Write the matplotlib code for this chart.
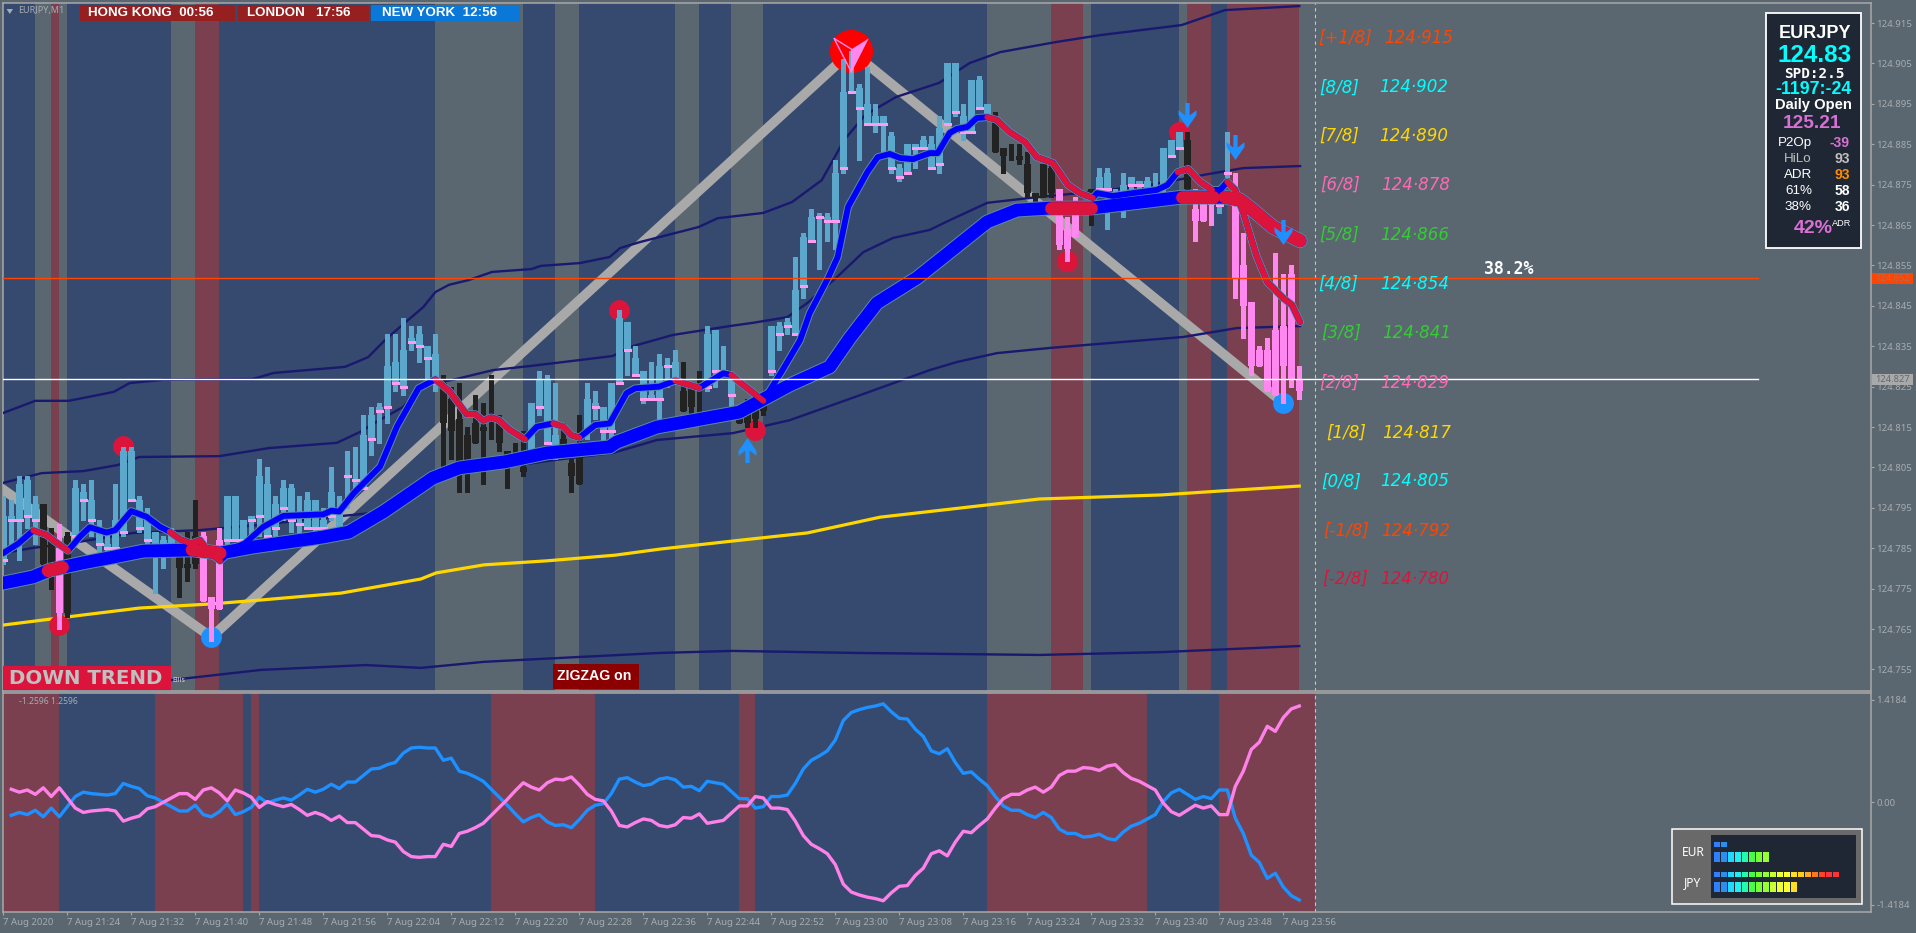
import numpy as np
import matplotlib
matplotlib.use("Agg")
import matplotlib.pyplot as plt
from matplotlib.patches import Rectangle
from matplotlib.path import Path
import logging
logging.getLogger("matplotlib.font_manager").setLevel(logging.ERROR)

W, H = 1916, 933
BASE = 124.7
P = lambda a: BASE + np.asarray(a, dtype=float) / 1000

# ---- candles: points above 124.700 ----
highs = [98,97,103,103,98,96,90,91,89,102,101,102,92,89,101,110,110,98,95,89,88,90,86,89,97,89,73,90,98,98,92,93,107,105,98,102,101,98,99,97,95,105,98,
109,110,118,120,121,138,138,142,140,140,135,138,128,125,126,115,123,121,128,118,109,111,114,121,129,128,126,116,107,118,126,124,120,126,144,141,135,129,131,133,132,134,131,126,129,140,139,135,127,120,122,122,123,
140,141,142,157,163,169,168,168,181,206,208,200,204,195,192,188,180,185,185,187,187,192,205,205,195,201,202,195,193,184,185,185,183,173,180,180,
174,167,172,171,174,179,179,174,178,177,176,177,178,184,186,188,188,174,173,174,174,188,178,163,146,135,137,158,153,155,130]
tops = [93,93,101,102,96,96,88,85,88,100,99,97,89,86,92,109,109,97,93,89,87,89,83,81,88,88,73,87,98,98,92,93,103,101,96,100,100,91,97,97,92,99,95,
103,102,113,118,120,130,131,134,137,138,135,133,126,122,117,113,116,115,115,117,109,108,105,121,127,127,113,112,106,111,122,121,120,126,142,141,132,129,123,130,130,131,124,125,125,138,139,129,127,120,120,120,122,
140,140,141,149,162,167,167,167,178,198,198,199,195,192,192,187,179,185,185,186,185,189,205,205,192,201,201,195,191,184,182,182,180,173,180,179,
174,164,171,170,174,177,178,172,175,177,176,176,172,184,186,188,186,169,171,172,173,178,170,155,146,134,134,139,140,153,127]
bottoms = [82,92,92,93,92,81,81,69,69,88,97,92,86,85,85,89,97,90,87,85,86,86,80,80,81,72,70,70,87,87,87,92,93,88,90,95,92,91,90,90,90,93,90,
103,102,100,112,119,120,126,125,136,135,132,126,116,114,106,106,111,114,115,111,108,108,104,108,120,111,110,110,103,101,114,120,114,114,126,134,128,122,122,122,130,126,119,120,124,125,129,129,123,116,116,117,119,
129,138,140,138,150,161,167,166,166,179,198,194,190,190,190,179,177,178,184,184,179,180,190,193,188,188,194,192,183,182,182,181,173,172,172,173,
160,159,162,169,172,174,174,171,171,175,175,172,172,175,182,184,174,166,166,170,170,178,152,145,130,130,124,123,130,127,124]
lows = [81,86,82,90,86,78,75,65,68,87,92,88,83,83,85,88,97,89,85,74,80,86,73,77,80,72,62,70,86,87,86,88,88,88,88,92,89,89,90,88,89,92,89,
95,100,100,108,111,116,124,123,134,131,126,124,105,107,99,99,111,101,112,109,100,106,103,108,118,111,107,108,99,101,112,117,111,111,126,128,128,121,122,116,125,126,119,118,118,124,125,128,120,116,115,115,118,
128,134,138,138,147,161,154,161,159,178,198,181,190,188,183,178,176,178,179,184,179,178,190,192,186,188,194,191,183,178,181,180,172,170,172,172,
159,156,162,168,165,173,164,170,167,174,174,172,172,172,182,184,174,161,166,165,168,177,147,137,128,130,124,123,121,125,122]
kinds = ("b"*5 + "kk" + "p" + "k" + "b"*13 + "kkk" + "ppp" + "b"*27 + "k"*11 + "b"*4 + "kkk" + "b"*12
         + "kkk" + "b"*4 + "k"*4 + "b"*28 + "k"*8 + "p"*4 + "k" + "b"*11 + "k" + "ppp" + "bb" + "p"*9)

# ---- overlays: bar position and points above 124.700 ----
fast_bar = [0,1.9,3.75,5.4,6.5,8.1,9.6,10.8,12.9,14,16,17.9,19.6,20.8,22.1,23.5,24.6,25.8,27.1,28.8,30.2,32.5,35,40,41,42,43.8,47.1,49.2,51.9,54,55.8,57.9,59,60,61,62,63.3,65.2,66.7,68.75,70,71,72,74,75.8,77.9,79,82,84,87,90,91,92,95,97.4,99.6,100.8,103.1,104.3,105.6,108,109.3,110.8,112.1,113.7,115.8,116.8,118.3,119.2,120.5,121.7,123,124.2,125.8,127.7,129.2,131.2,133.1,134.6,136.2,136.7,138.7,141.2,144.2,145.5,146.8,148.1,149.6,151.1,152.1,153,154,155,156.7,158,160,161.1,162.1]
fast_val = [83.8,86.2,89.4,88.3,86.6,84.4,87.9,90.2,88.9,89.5,94.2,92.8,90.3,89.1,87.2,86.2,87,83.8,81.9,85,86.2,90.3,93,93.4,94.3,94.1,98.6,105.2,115.1,124.6,126.8,123.8,118.2,118.2,116.6,117.4,116.7,114.3,112,115.1,115.9,115.1,113,112.4,115.5,115.9,123.4,124.6,125,126.5,124.7,128.3,127.9,126.2,121.5,129.1,136.5,143.2,151.9,157.1,169.5,178.1,181.8,182.6,181.6,181.3,182.8,182.8,187.8,188.8,189.3,191.5,191.7,191,188,185.6,181.8,180.4,174.9,172.9,171.7,172.9,172.2,172.9,173.7,174.9,178.1,178.9,175.7,173.7,173.7,175.7,173.7,168,157.1,150.9,146.9,145.2,141]
fast_red = [(3.75,8.1),(20.8,27.1),(54,65.2),(68.75,72),(84,87),(91,95),(123,136.2),(146.8,151.1),(153,162.1)]

slow_bar = [0,3.7,5.8,10,13.7,17.5,23.7,27.1,31.2,40,43.2,47.5,53.7,57,62.7,68,75.8,76.7,81.7,92,98.3,103.3,105.8,109.2,114.2,117.5,123,126.7,130.9,136,147.3,152.7,154.6,156.2,158.7,162.1]
slow_val = [76.4,77.9,79.6,81.4,82.8,84.3,84.6,83.8,85.3,87.8,89,94,102.4,104.9,106.4,108.6,110.1,111.3,115,118.7,125.4,129.9,137,145.7,151.9,157.1,165.8,168.7,169.2,169.2,171.9,171.9,171.2,168.7,164.5,161.1]
slow_red = [(5.6,7.4),(23.6,27.1),(131,136),(147.3,151.2),(152.7,162.1)]

yellow_bar = [0,4.8,10,17,25.8,32.2,42.2,52.2,54.1,60.1,68,76.5,82.1,91.2,100.5,109.6,129.5,144.7,152.3,162]
yellow_val = [66,67.2,68.5,70.2,71.2,72.2,73.9,77.4,78.9,80.9,81.9,83.3,84.8,86.8,88.8,92.7,97.2,98.2,99.2,100.4]

zig_bar = [0,26,106,160]
zig_val = [99.5,63,208,121]

env_a_bar = [0,4,8.2,13.8,15.8,20,31.2,33.8,42.7,45.6,47.7,49.6,52.5,54,55.7,58.2,61.1,66,67.2,72.1,75.8,77.1,79.6,86.9,89.3,95,98.6,102.3,105.1,107.7,111.6,117,120.8,124.6,131.6,137.1,147.3,152.7,162]
env_a_val = [118.5,121.5,121.5,123.7,125.9,126.7,126.9,128.4,129.9,132.3,136.5,139.8,144.7,148.4,150.2,151.4,153.4,154.1,154.9,155.6,157.1,159.3,160.8,164.5,166.7,168,170.7,176.1,186,192.2,196.7,200.2,205.1,207.8,210.3,212,214.5,218.2,219.2]
env_b_bar = [0,4.8,10,14.3,17,27,33.2,41.7,44.6,47,50,52,54,56.2,61.2,65.8,72.1,76.2,78.3,83.7,90.8,93.7,98,100.5,104.2,107.5,111.2,115.8,118.3,123,128.3,136,143.3,150,155,162.1]
env_b_val = [101.2,103.6,104.1,105.6,107.6,107.8,109.8,111.1,113.8,116.7,120,124.7,125.9,126.7,129.1,130.1,131.6,132.6,134.8,137.8,140,140.8,142.2,145.7,152.1,158.3,161.8,163.8,166.2,170.5,171.7,173.2,174.9,177.4,179.1,179.6]
env_c_bar = [0,3.7,8,16.2,24.6,32.1,40.8,45.9,47.5,54.3,62.7,68.7,76.2,81.7,91.2,98.3,107.1,115.8,119.2,124.2,130.9,147.5,154.2,162.1]
env_c_val = [83.8,85.1,86.1,88.8,89.5,90.8,92.7,93.7,95,102.6,105.1,106.8,108.6,111.8,113.5,116.7,122.9,129.1,131.1,133.3,134.6,137.3,139.5,140]
env_d_bar = [21,32.2,45.3,52.2,60.1,69,82.1,91.2,106.5,129.5,144.7,162]
env_d_val = [52.4,54.9,56.1,55.4,56.9,57.8,59.1,59.6,59.1,58.6,59.3,60.8]

dot_red_bar = [15,7,77,133,147,94]
dot_red_val = [110.3,66,144,156.1,188.1,114.3]
dot_blue_bar = [26,160]
dot_blue_val = [63,121]
top_bar, top_val = [105.9], [208]
arrow_dn_bar = [148,154,160]
arrow_dn_val = [192.2,184.3,163.3]
arrow_up_bar = [93]
arrow_up_val = [109.3]

# ---- background sessions, in bars ----
grey_bands = [(4,6),(7,8),(21,24),(54,65),(69,72),(84,87),(91,95),(123,131),(135,136),(147,148)]
red_bands = [(6,7),(24,27),(131,135),(148,151),(153,162)]
sub_red_bands = [(-0.1,7),(19,30),(31,32),(61,74),(92,94),(123,143),(152,164)]

# ---- oscillator ----
osc_blue = [-0.18,-0.14,-0.17,-0.11,-0.20,-0.08,-0.20,-0.06,0.08,0.14,0.12,0.11,0.10,0.12,0.26,0.22,0.19,0.09,0.06,0.00,-0.06,-0.12,-0.12,-0.04,-0.17,-0.20,-0.13,-0.02,-0.17,-0.13,-0.07,0.07,-0.01,0.03,0.06,0.03,0.10,0.18,0.14,0.18,0.25,0.19,0.28,0.28,0.37,0.46,0.47,0.52,0.55,0.68,0.75,0.76,0.75,0.75,0.58,0.61,0.43,0.40,0.35,0.29,0.18,0.07,-0.04,-0.16,-0.27,-0.21,-0.17,-0.27,-0.32,-0.31,-0.35,-0.24,-0.11,-0.04,-0.02,0.12,0.32,0.34,0.28,0.23,0.25,0.32,0.34,0.31,0.21,0.22,0.16,
0.29,0.27,0.25,0.15,0.05,0.05,-0.08,-0.06,0.08,0.08,0.10,0.26,0.46,0.58,0.64,0.71,0.86,1.13,1.24,1.28,1.31,1.33,1.36,1.25,1.16,1.15,1.01,0.91,0.71,0.67,0.74,0.55,0.40,0.42,0.32,0.23,0.08,-0.05,-0.11,-0.11,-0.17,-0.21,-0.14,-0.21,-0.37,-0.43,-0.43,-0.48,-0.47,-0.44,-0.50,-0.52,-0.41,-0.33,-0.29,-0.23,-0.17,0.01,0.13,0.18,0.11,0.04,0.08,0.05,0.17,0.17,-0.22,-0.43,-0.73,-0.83,-1.05,-0.98,-1.17,-1.29,-1.35]
osc_pink = [0.18,0.14,0.17,0.11,0.20,0.08,0.20,0.06,-0.08,-0.14,-0.12,-0.11,-0.10,-0.12,-0.26,-0.22,-0.19,-0.09,-0.06,0.00,0.06,0.12,0.12,0.04,0.17,0.20,0.13,0.02,0.17,0.13,0.07,-0.07,0.01,-0.03,-0.06,-0.03,-0.10,-0.18,-0.14,-0.18,-0.25,-0.19,-0.28,-0.28,-0.37,-0.46,-0.47,-0.52,-0.55,-0.68,-0.75,-0.76,-0.75,-0.75,-0.58,-0.61,-0.43,-0.40,-0.35,-0.29,-0.18,-0.07,0.04,0.16,0.27,0.21,0.17,0.27,0.32,0.31,0.35,0.24,0.11,0.04,0.02,-0.12,-0.32,-0.34,-0.28,-0.23,-0.25,-0.32,-0.34,-0.31,-0.21,-0.22,-0.16,
-0.29,-0.27,-0.25,-0.15,-0.05,-0.05,0.08,0.06,-0.08,-0.08,-0.10,-0.26,-0.46,-0.58,-0.64,-0.71,-0.86,-1.13,-1.24,-1.28,-1.31,-1.33,-1.36,-1.25,-1.16,-1.15,-1.01,-0.91,-0.71,-0.67,-0.74,-0.55,-0.40,-0.42,-0.32,-0.23,-0.08,0.05,0.11,0.11,0.17,0.21,0.14,0.21,0.37,0.43,0.43,0.48,0.47,0.44,0.50,0.52,0.41,0.33,0.29,0.23,0.17,-0.01,-0.13,-0.18,-0.11,-0.04,-0.08,-0.05,-0.17,-0.17,0.22,0.43,0.73,0.83,1.05,0.98,1.17,1.29,1.33]

price_ticks = [124.755 + 0.01 * k for k in range(17)]
time_labels = ["7 Aug 2020","7 Aug 21:24","7 Aug 21:32","7 Aug 21:40","7 Aug 21:48","7 Aug 21:56","7 Aug 22:04","7 Aug 22:12","7 Aug 22:20","7 Aug 22:28","7 Aug 22:36","7 Aug 22:44","7 Aug 22:52","7 Aug 23:00","7 Aug 23:08","7 Aug 23:16","7 Aug 23:24","7 Aug 23:32","7 Aug 23:40","7 Aug 23:48","7 Aug 23:56"]
line_orange = 124.852
line_white = 124.8268

murrey_tag = ["[+1/8]","[8/8]","[7/8]","[6/8]","[5/8]","[4/8]","[3/8]","[2/8]","[1/8]","[0/8]","[-1/8]","[-2/8]"]
murrey_val = ["124·915","124·902","124·890","124·878","124·866","124·854","124·841","124·829","124·817","124·805","124·792","124·780"]
murrey_col = ["#FF4500","#00FFFF","#FFD700","#FF69B4","#32CD32","#00FFFF","#32CD32","#FF69B4","#FFD700","#00FFFF","#FF4500","#DC143C"]
murrey_y = [37.7,87.3,136,185,235,284,333,382.7,432.6,481.5,531,579]
murrey_x = [1318,1319,1319,1320,1319,1318,1321,1319,1326,1321,1323,1322]
murrey_xv = [1384,1379,1379,1381,1380,1380,1382,1380,1382,1380,1381,1380]

strength_names = ["EUR","JPY"]
strength_counts = [2,8,18,12]
cell_colors = ["#2F7FFF","#2A90F0","#22D8FF","#22F0F0","#22FFAA","#44FF44","#77FF33","#99FF33","#CCFF33","#EEFF33","#FFFF33","#FFDD22","#FFCC22","#FFAA22","#FF7722","#FF4422","#FF3333","#FF3333"]

BG = "#5B6770"; NAVYBG = "#36496E"; MAROON = "#7B4050"; EDGE = "#A8A8A8"; TXT = "#A6ACB0"
CANDLE = {"b": "#5BA8CC", "k": "#222222", "p": "#FF88F0"}
LAB = "Noto Sans"
BOLD = "Liberation Sans"

fig = plt.figure(figsize=(W/100, H/100), dpi=100, facecolor=BG)
def axpx(x0, y0, x1, y1):
    return fig.add_axes([x0/W, 1-y1/H, (x1-x0)/W, (y1-y0)/H])

XL = ((2.5-3.3)/8, (1870.5-3.3)/8)
ax = axpx(2.5, 3, 1870.5, 691)
sub = axpx(2.5, 692.7, 1870.5, 912)
for a in (ax, sub):
    a.set_facecolor(BG)
    a.set_xlim(*XL)
    for s in a.spines.values():
        s.set_color(EDGE); s.set_linewidth(1.1)
ax.set_ylim(BASE + (220.7-0.2475*691)/1000, BASE + (220.7-0.2475*3)/1000)
sub.set_ylim(-(912-802.3)/72.4, (802.3-692.7)/72.4)

# --- session backgrounds
ax.axvspan(XL[0], 162, color=NAVYBG, lw=0, zorder=1)
for a, b in grey_bands: ax.axvspan(a, b, color=BG, lw=0, zorder=1.1)
for a, b in red_bands:  ax.axvspan(a, b, color=MAROON, lw=0, zorder=1.1)
sub.axvspan(XL[0], 164, color=NAVYBG, lw=0, zorder=1)
for a, b in sub_red_bands: sub.axvspan(a, b, color=MAROON, lw=0, zorder=1.1)
for a in (ax, sub):
    a.axvline(164, color="#C8C8C8", lw=0.8, ls=(0, (3, 3)), zorder=1.2)

# --- zigzag and envelopes
ax.plot(zig_bar, P(zig_val), color="#A9A9A9", lw=7.0, solid_joinstyle="miter", zorder=2)
for b, v in ((env_a_bar, env_a_val), (env_b_bar, env_b_val), (env_c_bar, env_c_val), (env_d_bar, env_d_val)):
    ax.plot(b, P(v), color="#191970", lw=1.7, zorder=3)
ax.plot(yellow_bar, P(yellow_val), color="#FFD700", lw=2.3, zorder=3)

# --- extreme dots
ax.plot(dot_red_bar, P(dot_red_val), "o", color="#DC143C", ms=15, mew=0, zorder=4)
ax.plot(dot_blue_bar, P(dot_blue_val), "o", color="#1E90FF", ms=15, mew=0, zorder=4)
ax.plot(top_bar, P(top_val), "o", color="#FF0000", ms=31, mew=0, zorder=4)

# --- candles
xs = np.arange(len(highs))
colors = [CANDLE[k] for k in kinds]
ax.vlines(xs, P(lows), P(highs), colors=colors, lw=2.2, zorder=5, antialiased=False)
T, B = P(tops), P(bottoms)
ax.bar(xs, T-B, bottom=B, width=0.92, color=colors, lw=0, zorder=5.1, antialiased=False)
up = np.array([k == "b" for k in kinds])
ax.hlines(B[up], xs[up]-0.46, xs[up]+0.46, colors="#FF9CF2", lw=0.8, zorder=5.2, antialiased=False)

# --- moving averages
def ma(b, v, red, lw):
    y = P(v)
    ax.plot(b, y, color="#5C8AA8", lw=lw+1.4, solid_capstyle="round", zorder=6)
    ax.plot(b, y, color="#0000FF", lw=lw, solid_capstyle="round", zorder=6.1)
    for lo, hi in red:
        g = np.linspace(lo, hi, 60)
        ax.plot(g, np.interp(g, b, y), color="#DC143C", lw=lw, solid_capstyle="round", zorder=6.2)
ma(slow_bar, slow_val, slow_red, 9.2)
ma(fast_bar, fast_val, fast_red, 4.2)

# --- horizontal levels
frac = (1758-2.5)/(1870.5-2.5)
ax.axhline(line_orange, xmax=frac, color="#FF4500", lw=1.0, zorder=6.5)
ax.axhline(line_white, xmax=frac, color="#FFFFFF", lw=1.0, zorder=6.5)

# --- arrows
dn = Path([(-.17,1),(.17,1),(.17,0),(.72,.42),(.72,.05),(0,-1),(-.72,.05),(-.72,.42),(-.17,0),(-.17,1)], closed=True)
upm = Path([(-.17,-1),(.17,-1),(.17,0),(.72,-.42),(.72,-.05),(0,1),(-.72,-.05),(-.72,-.42),(-.17,0),(-.17,-1)], closed=True)
ax.plot(arrow_dn_bar, P(arrow_dn_val), ls="", marker=dn, color="#1E90FF", ms=18, mew=0, zorder=7)
ax.plot(arrow_up_bar, P(arrow_up_val), ls="", marker=upm, color="#1E90FF", ms=18, mew=0, zorder=7)
wing_r = Path([(.83,.63),(0,.11),(0,-1),(.83,.63)], closed=True)
wing_l = Path([(-.84,.63),(0,.11),(0,-1),(-.84,.63)], closed=True)
ax.plot(top_bar, P(top_val), ls="", marker=wing_r, color="#FF88F0", ms=30, mew=0, zorder=7)
ax.plot(top_bar, P(top_val), ls="", marker=wing_l, mfc="none", mec="#FF88F0", ms=30, mew=1, zorder=7)

# --- oscillator lines
sub.plot(np.arange(1, len(osc_blue)+1), osc_blue, color="#1E90FF", lw=2.4, zorder=3)
sub.plot(np.arange(1, len(osc_pink)+1), osc_pink, color="#FF80E8", lw=2.4, zorder=3.1)

# --- axes ticks
ax.yaxis.tick_right()
ax.set_xticks([])
ax.set_yticks(price_ticks)
ax.set_yticklabels([f"{p:.3f}" for p in price_ticks], fontsize=6.9, family=LAB, color=TXT)
ax.tick_params(axis="y", length=2.2, width=0.8, color=EDGE, pad=2)
sub.yaxis.tick_right()
sub.set_yticks([1.4184, 0, -1.4184])
sub.set_yticklabels(["1.4184", "0.00", "-1.4184"], fontsize=6.9, family=LAB, color=TXT)
sub.tick_params(axis="y", length=2.2, width=0.8, color=EDGE, pad=2)
sub.set_xticks(np.arange(len(time_labels)) * 8)
sub.set_xticklabels(time_labels, fontsize=6.9, family=LAB, color=TXT, ha="left")
sub.tick_params(axis="x", length=2.2, width=0.8, color=EDGE, pad=2)

# --- overlay in pixels for panels and labels
ov = fig.add_axes([0, 0, 1, 1], zorder=20)
ov.set_xlim(0, W); ov.set_ylim(H, 0); ov.axis("off"); ov.patch.set_alpha(0)
def box(x0, y0, x1, y1, fc, ec="none", lw=0, **kw):
    ov.add_patch(Rectangle((x0, y0), x1-x0, y1-y0, facecolor=fc, edgecolor=ec, lw=lw, **kw))
def tx(x, y, s, **kw):
    kw.setdefault("va", "center"); kw.setdefault("ha", "left")
    ov.text(x, y, s, **kw)

# session clocks
box(80, 5, 234.7, 20.7, "#962020"); box(238, 5, 368.6, 20.7, "#962020"); box(371, 5, 519.6, 20.7, "#0A78D8")
kw = dict(color="white", fontsize=9.6, weight="bold", family=BOLD)
tx(88, 13, "HONG KONG  00:56", **kw); tx(247.5, 13, "LONDON   17:56", **kw); tx(382, 13, "NEW YORK  12:56", **kw)
tx(18.4, 10.7, "EURJPY,M1", color=TXT, fontsize=6.5, family=LAB)
ov.fill([6.5, 13, 9.8], [9, 9, 14], color=TXT, lw=0)
tx(19, 701.7, "-1.2596 1.2596", color=TXT, fontsize=6.2, family=LAB)

# trend and zigzag badges
box(3.4, 666, 171, 690, "#DC143C")
tx(9, 678.5, "DOWN TREND", color="#C0C0C0", fontsize=14.2, weight="bold", family="DejaVu Sans")
tx(172.5, 680, "Ellis", color="#DDDDDD", fontsize=5, family=LAB)
box(553, 664, 639, 689, "#8B0000")
tx(594, 676.5, "ZIGZAG on", ha="center", color="white", fontsize=10.2, weight="bold", family=BOLD)

# Murrey levels
for t, v, c, y, x, xv in zip(murrey_tag, murrey_val, murrey_col, murrey_y, murrey_x, murrey_xv):
    tx(x, y, t, color=c, fontsize=12, style="oblique", family="DejaVu Sans")
    tx(xv, y, v, color=c, fontsize=12, style="oblique", family="DejaVu Sans")
tx(1484.5, 268.7, "38.2%", color="white", fontsize=11.9, weight="bold", family="DejaVu Sans Mono")

# price tags
box(1872, 273, 1913, 284, "#FF4500")
tx(1892.5, 278.5, "124.852", ha="center", color="#A97060", fontsize=6.6, family=LAB)
box(1872, 374, 1913, 385, "#A9A9A9")
tx(1892.5, 379.5, "124.827", ha="center", color="#5F6A72", fontsize=6.6, family=LAB)

# symbol panel
box(1766.4, 13.3, 1861, 247.7, "#1E2733", ec="white", lw=1.3)
tx(1851, 33.3, "EURJPY", ha="right", color="white", fontsize=13, weight="bold", family=BOLD)
tx(1851.7, 55.3, "124.83", ha="right", color="#00FFFF", fontsize=17.5, weight="bold", family=BOLD)
tx(1845, 74, "SPD:2.5", ha="right", color="white", fontsize=10.4, weight="bold", family="DejaVu Sans Mono")
tx(1851.5, 90, "-1197:-24", ha="right", color="#00FFFF", fontsize=12.8, weight="bold", family=BOLD)
tx(1852, 105, "Daily Open", ha="right", color="white", fontsize=10.6, weight="bold", family=BOLD)
tx(1841.5, 124, "125.21", ha="right", color="#DA70D6", fontsize=13.8, weight="bold", family=BOLD)
panel_labels = ["P2Op","HiLo","ADR","61%","38%"]
panel_values = ["-39","93","93","58","36"]
panel_lab_col = ["white","#C0C0C0","white","white","white"]
panel_val_col = ["#DA70D6","#C0C0C0","#FF8C00","white","white"]
panel_y = [143.3,159.3,175.3,191.3,207.3]
for l, v, lc, vc, y in zip(panel_labels, panel_values, panel_lab_col, panel_val_col, panel_y):
    tx(1812, y, l, ha="right", color=lc, fontsize=9.6, family=BOLD)
    tx(1850, y, v, ha="right", color=vc, fontsize=10, weight="bold", family=BOLD)
tx(1832.5, 228.7, "42%", ha="right", color="#DA70D6", fontsize=14, weight="bold", family=BOLD)
tx(1832, 224, "ADR", color="white", fontsize=6.6, family=BOLD)

# currency strength
box(1672.3, 829.3, 1862, 903.7, "#696969", ec="white", lw=1.1)
box(1711, 835, 1856, 898, "#1E2733")
tx(1693, 852.3, strength_names[0], ha="center", color="white", fontsize=8.6, family=LAB)
tx(1693, 882.3, strength_names[1], ha="center", color="white", fontsize=8.6, family=LAB)
rows = [(842, 846.7), (851.7, 862), (872, 877), (881.7, 892)]
for (y0, y1), n in zip(rows, strength_counts):
    for k in range(n):
        box(1714+7*k, y0, 1720+7*k, y1, cell_colors[k])

fig.savefig("out.png", dpi=100, facecolor=BG)
